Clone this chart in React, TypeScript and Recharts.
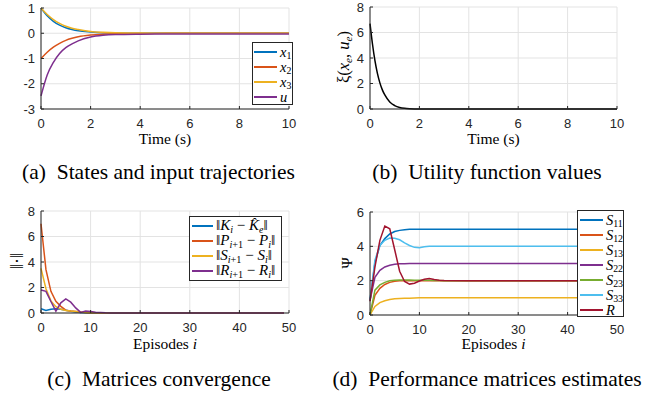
import React from 'react';
import { LineChart, Line, XAxis, YAxis, CartesianGrid } from 'recharts';

const SERIF = "'Liberation Serif', 'Times New Roman', Times, serif";
const SANS = "'Liberation Sans', Arial, Helvetica, sans-serif";
const INK = '#262626';
const GRID = '#e3e3e3';

const BLUE = '#0072BD';
const ORANGE = '#D95319';
const YELLOW = '#EDB120';
const PURPLE = '#7E2F8E';
const GREEN = '#77AC30';
const CYAN = '#4DBEEE';
const CRIMSON = '#A2142F';

// (a) states and input
const timeA = [0, 0.25, 0.5, 0.75, 1, 1.25, 1.5, 2, 2.5, 3, 4, 5, 6, 8, 10];
const x1A = [1, 0.69, 0.47, 0.32, 0.22, 0.15, 0.1, 0.05, 0.02, 0.01, 0, 0, 0, 0, 0];
const x2A = [-1, -0.75, -0.55, -0.4, -0.28, -0.2, -0.14, -0.07, -0.035, -0.02, -0.01, 0, 0, 0, 0];
const x3A = [1, 0.74, 0.54, 0.39, 0.28, 0.2, 0.15, 0.07, 0.035, 0.015, 0.005, 0, 0, 0, 0];
const uA = [-2.48, -1.65, -1.15, -0.8, -0.57, -0.42, -0.3, -0.15, -0.08, -0.05, -0.035, -0.03, -0.03, -0.03, -0.03];

// (b) utility
const timeB = [0, 0.1, 0.2, 0.3, 0.4, 0.5, 0.6, 0.8, 1, 1.2, 1.4, 1.6, 2, 4, 10];
const xiB = [6.7, 5.1, 3.8, 2.8, 2.05, 1.5, 1.1, 0.55, 0.27, 0.12, 0.05, 0.02, 0, 0, 0];

// (c) convergence
const epC = [0, 1, 2, 3, 4, 5, 6, 7, 8, 9, 10, 11, 12, 13, 14, 15, 20, 30, 40, 49];
const kC = [0.33, 0.2, 0.3, 0.33, 0.3, 0.22, 0.13, 0.07, 0.03, 0.01, 0, 0, 0, 0, 0, 0, 0, 0, 0, 0];
const pC = [7.0, 3.4, 1.7, 0.92, 0.52, 0.22, 0.16, 0.12, 0.07, 0.04, 0.02, 0.01, 0, 0, 0, 0, 0, 0, 0, 0];
const sC = [3.5, 1.9, 0.95, 0.5, 0.3, 0.2, 0.15, 0.12, 0.08, 0.04, 0.02, 0.01, 0, 0, 0, 0, 0, 0, 0, 0];
const rC = [1.8, 1.7, 0.9, 0.15, 0.8, 1.1, 0.85, 0.4, 0.05, 0.15, 0.12, 0.05, 0.03, 0.01, 0, 0, 0, 0, 0, 0];

// (d) estimates
const epD = [0, 1, 2, 3, 4, 5, 6, 7, 8, 9, 10, 11, 12, 13, 14, 15, 20, 30, 40, 49];
const s11D = [0.85, 3.05, 4.05, 4.45, 4.72, 4.86, 4.93, 4.97, 4.99, 5, 5, 5, 5, 5, 5, 5, 5, 5, 5, 5];
const s12D = [0, 1.15, 1.55, 1.78, 1.9, 1.96, 1.99, 2, 2, 2, 2, 2, 2, 2, 2, 2, 2, 2, 2, 2];
const s13D = [0, 0.5, 0.72, 0.83, 0.9, 0.94, 0.96, 0.97, 0.98, 0.99, 1, 1, 1, 1, 1, 1, 1, 1, 1, 1];
const s22D = [0.85, 2.2, 2.6, 2.8, 2.9, 2.95, 2.98, 2.99, 3, 3, 3, 3, 3, 3, 3, 3, 3, 3, 3, 3];
const s23D = [0, 1.45, 1.75, 1.9, 1.99, 2.03, 2.04, 2.04, 2.04, 2.03, 2.03, 2.02, 2.02, 2.01, 2.01, 2, 2, 2, 2, 2];
const s33D = [0.87, 3.2, 4.05, 4.35, 4.48, 4.47, 4.38, 4.2, 4.05, 3.94, 3.92, 3.97, 4, 4, 4, 4, 4, 4, 4, 4];
const rD = [0.8, 2.8, 4.35, 5.18, 5.02, 3.8, 2.55, 1.95, 1.8, 1.85, 1.98, 2.08, 2.12, 2.07, 2.03, 2.01, 2, 2, 2, 2];

const ticks10 = [0, 2, 4, 6, 8, 10];
const ticks50 = [0, 10, 20, 30, 40, 50];

const rowsA = timeA.map((t, i) => ({ t, x1: x1A[i], x2: x2A[i], x3: x3A[i], u: uA[i] }));
const rowsB = timeB.map((t, i) => ({ t, xi: xiB[i] }));
const rowsC = epC.map((e, i) => ({ e, k: kC[i], p: pC[i], s: sC[i], r: rC[i] }));
const rowsD = epD.map((e, i) => ({
  e, s11: s11D[i], s12: s12D[i], s13: s13D[i], s22: s22D[i], s23: s23D[i], s33: s33D[i], r: rD[i],
}));

const I = ({ children }: any) => <i>{children}</i>;
const Sub = ({ children }: any) => (
  <span style={{ fontSize: '0.68em', position: 'relative', top: '0.3em', lineHeight: 1 }}>{children}</span>
);

const seriesA = [
  { key: 'x1', color: BLUE, label: <><I>x</I><Sub>1</Sub></> },
  { key: 'x2', color: ORANGE, label: <><I>x</I><Sub>2</Sub></> },
  { key: 'x3', color: YELLOW, label: <><I>x</I><Sub>3</Sub></> },
  { key: 'u', color: PURPLE, label: <I>u</I> },
];
const seriesB = [{ key: 'xi', color: '#000000', label: null }];
const seriesC = [
  { key: 'k', color: BLUE, label: <>‖<I>K</I><Sub><I>i</I></Sub> − <I>K̂</I><Sub><I>e</I></Sub>‖</> },
  { key: 'p', color: ORANGE, label: <>‖<I>P</I><Sub><I>i</I>+1</Sub> − <I>P</I><Sub><I>i</I></Sub>‖</> },
  { key: 's', color: YELLOW, label: <>‖<I>S</I><Sub><I>i</I>+1</Sub> − <I>S</I><Sub><I>i</I></Sub>‖</> },
  { key: 'r', color: PURPLE, label: <>‖<I>R</I><Sub><I>i</I>+1</Sub> − <I>R</I><Sub><I>i</I></Sub>‖</> },
];
const seriesD = [
  { key: 's11', color: BLUE, label: <><I>S</I><Sub>11</Sub></> },
  { key: 's12', color: ORANGE, label: <><I>S</I><Sub>12</Sub></> },
  { key: 's13', color: YELLOW, label: <><I>S</I><Sub>13</Sub></> },
  { key: 's22', color: PURPLE, label: <><I>S</I><Sub>22</Sub></> },
  { key: 's23', color: GREEN, label: <><I>S</I><Sub>23</Sub></> },
  { key: 's33', color: CYAN, label: <><I>S</I><Sub>33</Sub></> },
  { key: 'r', color: CRIMSON, label: <I>R</I> },
];

const tickStyle = { fill: INK, fontSize: 13, fontFamily: SANS };
const ML = 45;
const MT = 10;
const MR = 20;
const XH = 45;

function Panel({ left, top, w, h, data, xKey, xDomain, xTicks, yDomain, yTicks, series, lineType }: any) {
  return (
    <div style={{ position: 'absolute', left: left - ML, top: top - MT }}>
      <LineChart width={w + ML + MR} height={h + MT + XH} data={data} margin={{ top: MT, right: MR, left: 0, bottom: 0 }}>
        <CartesianGrid stroke={GRID} />
        <XAxis dataKey={xKey} type="number" domain={xDomain} ticks={xTicks} interval={0} height={XH}
          tickSize={-3} tickMargin={13} axisLine={{ stroke: INK }} tickLine={{ stroke: INK }} tick={tickStyle} />
        <XAxis xAxisId="top" orientation="top" type="number" domain={xDomain} ticks={xTicks} interval={0} height={0}
          tickSize={-3} tick={false} axisLine={{ stroke: INK }} tickLine={{ stroke: INK }} />
        <YAxis type="number" domain={yDomain} ticks={yTicks} interval={0} width={ML}
          tickSize={-3} tickMargin={9} axisLine={{ stroke: INK }} tickLine={{ stroke: INK }} tick={tickStyle} />
        <YAxis yAxisId="right" orientation="right" type="number" domain={yDomain} ticks={yTicks} interval={0} width={0}
          tickSize={-3} tick={false} axisLine={{ stroke: INK }} tickLine={{ stroke: INK }} />
        {series.map((s: any) => (
          <Line key={s.key} dataKey={s.key} stroke={s.color} strokeWidth={1.5} dot={false}
            type={lineType} isAnimationActive={false} />
        ))}
      </LineChart>
    </div>
  );
}

function LegendBox({ items, left, top, width, height, lineW, pad, size }: any) {
  return (
    <div style={{
      position: 'absolute', left, top, width, height, boxSizing: 'border-box',
      border: `1px solid ${INK}`, background: '#fff', paddingTop: 1.5,
      fontFamily: SERIF, fontSize: size || 14, color: '#000',
    }}>
      {items.map((it: any) => (
        <div key={it.key} style={{ display: 'flex', alignItems: 'center', height: 15, whiteSpace: 'nowrap' }}>
          <span style={{ display: 'inline-block', marginLeft: pad, width: lineW, borderTop: `2px solid ${it.color}`, marginRight: 3 }} />
          <span style={{ lineHeight: '13px' }}>{it.label}</span>
        </div>
      ))}
    </div>
  );
}

function Text({ x, y, size, rotate, children }: any) {
  return (
    <div style={{
      position: 'absolute', left: x, top: y, whiteSpace: 'nowrap', fontFamily: SERIF, fontSize: size,
      fontWeight: 400, color: '#000', transform: `translate(-50%, -50%)${rotate ? ' rotate(-90deg)' : ''}`, lineHeight: 1,
    }}>{children}</div>
  );
}

export default function App() {
  return (
    <div style={{ position: 'absolute', left: 0, top: 0, width: 664, height: 394, background: '#fff', overflow: 'hidden' }}>
      <Panel left={41} top={8} w={248} h={101} data={rowsA} xKey="t" xDomain={[0, 10]} xTicks={ticks10}
        yDomain={[-3, 1]} yTicks={[-3, -2, -1, 0, 1]} series={seriesA} lineType="monotone" />
      <Panel left={370} top={7} w={247} h={102} data={rowsB} xKey="t" xDomain={[0, 10]} xTicks={ticks10}
        yDomain={[0, 8]} yTicks={[0, 2, 4, 6, 8]} series={seriesB} lineType="monotone" />
      <Panel left={41} top={211} w={248} h={102} data={rowsC} xKey="e" xDomain={[0, 50]} xTicks={ticks50}
        yDomain={[0, 8]} yTicks={[0, 2, 4, 6, 8]} series={seriesC} lineType="linear" />
      <Panel left={370} top={212} w={247} h={103} data={rowsD} xKey="e" xDomain={[0, 50]} xTicks={ticks50}
        yDomain={[0, 6]} yTicks={[0, 2, 4, 6]} series={seriesD} lineType="linear" />

      <LegendBox items={seriesA} left={252} top={42} width={41} height={63} lineW={23} pad={1} size={14.5} />
      <LegendBox items={seriesC} left={189} top={216} width={93} height={65} lineW={21} pad={2} size={15} />
      <LegendBox items={seriesD} left={577} top={210} width={47} height={107} lineW={23} pad={2} size={14.5} />

      <Text x={165} y={139} size={15.5}>Time (s)</Text>
      <Text x={493.5} y={139} size={15.5}>Time (s)</Text>
      <Text x={165} y={344} size={15.5}>Episodes <I>i</I></Text>
      <Text x={493.5} y={344} size={15.5}>Episodes <I>i</I></Text>

      <Text x={343.5} y={57} size={16.5} rotate>ξ(<I>x</I><Sub><I>e</I></Sub>, <I>u</I><Sub><I>e</I></Sub>)</Text>
      <Text x={17} y={261} size={18} rotate>‖·‖</Text>
      <Text x={346.5} y={263} size={15} rotate>Ψ</Text>

      <Text x={158.5} y={173} size={21.5}>(a)&nbsp; States and input trajectories</Text>
      <Text x={487} y={173} size={21.5}>(b)&nbsp; Utility function values</Text>
      <Text x={159} y={380} size={21.5}>(c)&nbsp; Matrices convergence</Text>
      <Text x={487} y={380} size={21.5}>(d)&nbsp; Performance matrices estimates</Text>
    </div>
  );
}
